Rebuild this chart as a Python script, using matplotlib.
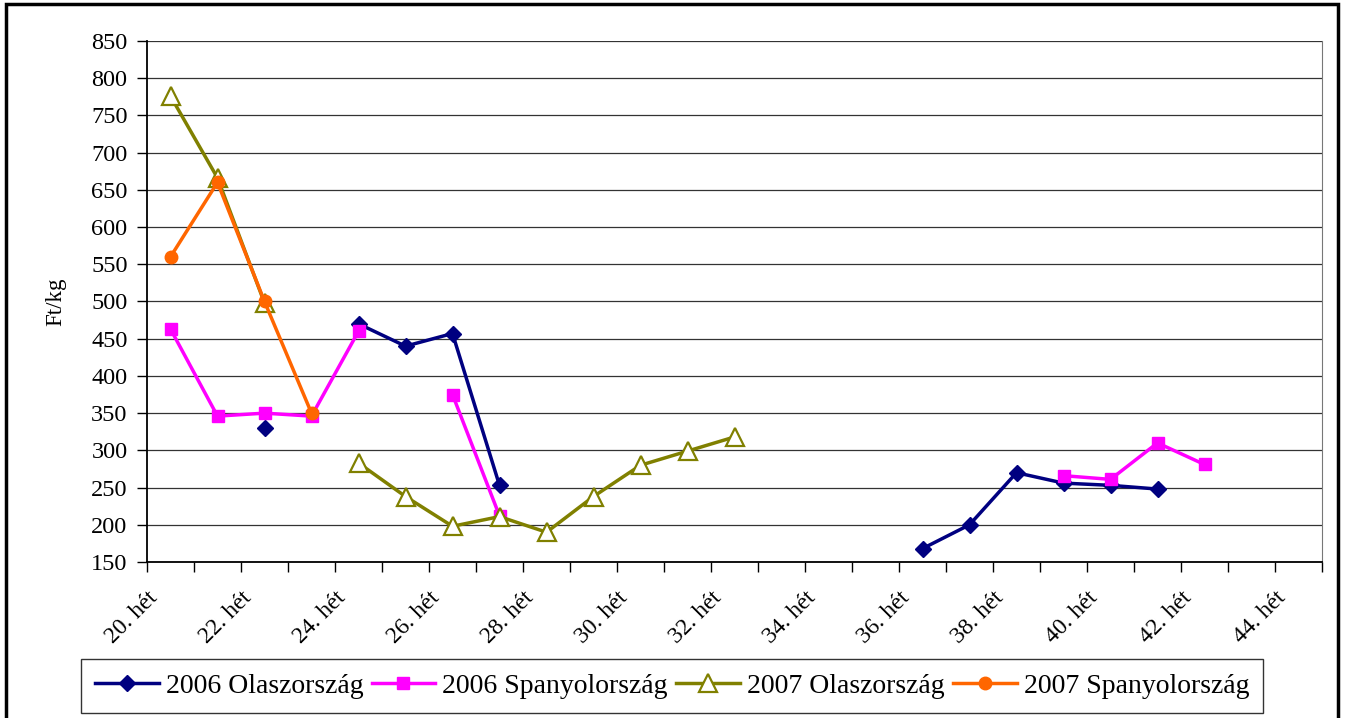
import numpy as np
import matplotlib
matplotlib.use("Agg")
from matplotlib import pyplot as plt
from matplotlib.patches import Rectangle

plt.rcParams['font.family'] = ['Liberation Serif', 'DejaVu Serif']

nan = np.nan
weeks = list(range(20, 45))
week_labels = [f"{w}. hét" for w in weeks]

ita_2006 = [nan, nan, 330, nan, 470, 440, 457, 253] + [nan] * 8 + \
    [168, 200, 270, 256, 253, 248, nan, nan, nan]
spa_2006 = [463, 346, 350, 346, 460, nan, 375, 212] + [nan] * 11 + \
    [266, 261, 310, 281, nan, nan]
ita_2007 = [776, 666, 498, nan, 283, 238, 198, 211, 190, 238, 280, 299, 318] + [nan] * 12
spa_2007 = [560, 660, 500, 350] + [nan] * 21

fig = plt.figure(figsize=(13.45, 7.18), dpi=100)
ax = fig.add_axes([147/1345, 1-562/718, (1322-147)/1345, (562-41)/718])

x = np.array(weeks)
ax.plot(x, ita_2006, '-D', color='#000080', lw=2.5, ms=8.5, label='2006 Olaszország', zorder=3)
ax.plot(x, spa_2006, '-s', color='#FF00FF', lw=2.5, ms=9, label='2006 Spanyolország', zorder=4)
ax.plot(x, ita_2007, '-^', color='#808000', lw=2.5, ms=13, mfc='white', mew=1.6,
        label='2007 Olaszország', zorder=5)
ax.plot(x, spa_2007, '-o', color='#FF6600', lw=2.5, ms=9, label='2007 Spanyolország', zorder=6)

ax.set_xlim(19.5, 44.5)
ax.set_ylim(150, 850)
ax.set_yticks(range(150, 851, 50))
ax.tick_params(axis='y', labelsize=17.5, length=7, direction='out', width=1, pad=7)
ax.grid(axis='y', color='#333333', lw=0.9)
ax.set_axisbelow(True)

bounds = np.arange(19.5, 45, 1.0)
ax.set_xticks(bounds)
lbls = [week_labels[i] if i % 2 == 0 and i < 25 else '' for i in range(len(bounds))]
ax.set_xticklabels(lbls, rotation=45, ha='right', rotation_mode='anchor', fontsize=17)
ax.tick_params(axis='x', length=7, direction='out', width=1, pad=11)

ax.spines['top'].set_visible(False)
ax.spines['right'].set_color('#777777')
ax.spines['left'].set_linewidth(1.3)
ax.spines['bottom'].set_linewidth(1.3)

ax.set_ylabel('Ft/kg', fontsize=16.5, labelpad=18)

leg = fig.legend(loc='center', bbox_to_anchor=(672/1345, 1-686/718), ncol=4,
                 fontsize=20, frameon=True, fancybox=False, edgecolor='black',
                 handlelength=2.3, handletextpad=0.25, columnspacing=0.3,
                 borderpad=0.5, borderaxespad=0)
leg.get_frame().set_linewidth(1.0)

fig.patches.append(Rectangle((6/1345, -0.01), (1338-6)/1345, 1-4/718+0.01,
                             transform=fig.transFigure, fill=False,
                             edgecolor='black', lw=2.5))

fig.savefig('out.png', dpi=100)
